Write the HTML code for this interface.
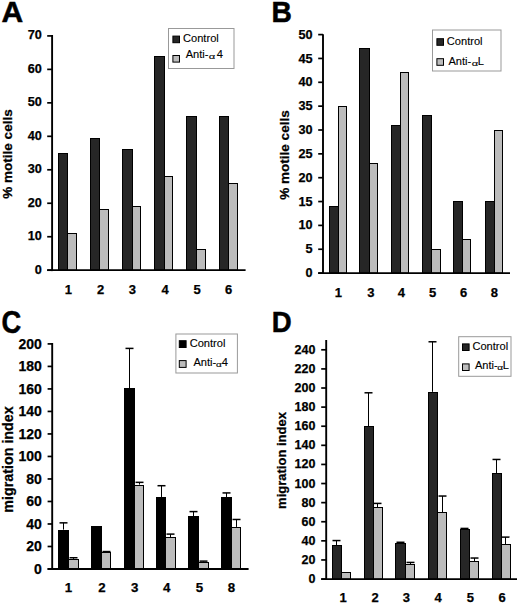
<!DOCTYPE html>
<html><head><meta charset="utf-8"><style>
html,body{margin:0;padding:0;background:#fff;}
svg{display:block;}
text{font-family:"Liberation Sans", sans-serif;fill:#000;}
</style></head><body>
<svg width="520" height="604" viewBox="0 0 520 604">
<rect width="520" height="604" fill="#fff"/>
<text x="1.6" y="22" font-size="30" font-weight="bold" text-anchor="start" stroke="#000" stroke-width="0.5">A</text>
<rect x="58.5" y="153.5" width="9" height="116.7" fill="#262626" stroke="#000" stroke-width="1"/>
<rect x="67.5" y="233.5" width="9" height="36.7" fill="#bcbcbc" stroke="#000" stroke-width="1"/>
<text x="68.47" y="293.6" font-size="13" font-weight="bold" text-anchor="middle"  stroke="#000" stroke-width="0.25">1</text>
<rect x="90.5" y="138.5" width="9" height="131.7" fill="#262626" stroke="#000" stroke-width="1"/>
<rect x="99.5" y="209.5" width="9" height="60.7" fill="#bcbcbc" stroke="#000" stroke-width="1"/>
<text x="100.73" y="293.6" font-size="13" font-weight="bold" text-anchor="middle"  stroke="#000" stroke-width="0.25">2</text>
<rect x="122.5" y="149.5" width="10" height="120.7" fill="#262626" stroke="#000" stroke-width="1"/>
<rect x="132.5" y="206.5" width="8" height="63.7" fill="#bcbcbc" stroke="#000" stroke-width="1"/>
<text x="132.49" y="293.6" font-size="13" font-weight="bold" text-anchor="middle"  stroke="#000" stroke-width="0.25">3</text>
<rect x="154.5" y="56.5" width="10" height="213.7" fill="#262626" stroke="#000" stroke-width="1"/>
<rect x="164.5" y="176.5" width="8" height="93.7" fill="#bcbcbc" stroke="#000" stroke-width="1"/>
<text x="165.24" y="293.6" font-size="13" font-weight="bold" text-anchor="middle"  stroke="#000" stroke-width="0.25">4</text>
<rect x="186.5" y="116.5" width="10" height="153.7" fill="#262626" stroke="#000" stroke-width="1"/>
<rect x="196.5" y="249.5" width="9" height="20.7" fill="#bcbcbc" stroke="#000" stroke-width="1"/>
<text x="197.18" y="293.6" font-size="13" font-weight="bold" text-anchor="middle"  stroke="#000" stroke-width="0.25">5</text>
<rect x="219.5" y="116.5" width="9" height="153.7" fill="#262626" stroke="#000" stroke-width="1"/>
<rect x="228.5" y="183.5" width="9" height="86.7" fill="#bcbcbc" stroke="#000" stroke-width="1"/>
<text x="228.7" y="293.6" font-size="13" font-weight="bold" text-anchor="middle"  stroke="#000" stroke-width="0.25">6</text>
<line x1="52.1" y1="35" x2="52.1" y2="271.1" stroke="#000" stroke-width="1.9"/>
<line x1="47.2" y1="270.2" x2="245.6" y2="270.2" stroke="#000" stroke-width="1.8"/>
<line x1="47.2" y1="270.2" x2="52.1" y2="270.2" stroke="#000" stroke-width="1.7"/>
<text x="41.8" y="273.57" font-size="12.7" font-weight="bold" text-anchor="end"  stroke="#000" stroke-width="0.25">0</text>
<line x1="47.2" y1="236.73" x2="52.1" y2="236.73" stroke="#000" stroke-width="1.7"/>
<text x="41.8" y="240.1" font-size="12.7" font-weight="bold" text-anchor="end"  stroke="#000" stroke-width="0.25">10</text>
<line x1="47.2" y1="203.26" x2="52.1" y2="203.26" stroke="#000" stroke-width="1.7"/>
<text x="41.8" y="206.63" font-size="12.7" font-weight="bold" text-anchor="end"  stroke="#000" stroke-width="0.25">20</text>
<line x1="47.2" y1="169.79" x2="52.1" y2="169.79" stroke="#000" stroke-width="1.7"/>
<text x="41.8" y="173.16" font-size="12.7" font-weight="bold" text-anchor="end"  stroke="#000" stroke-width="0.25">30</text>
<line x1="47.2" y1="136.32" x2="52.1" y2="136.32" stroke="#000" stroke-width="1.7"/>
<text x="41.8" y="139.69" font-size="12.7" font-weight="bold" text-anchor="end"  stroke="#000" stroke-width="0.25">40</text>
<line x1="47.2" y1="102.85" x2="52.1" y2="102.85" stroke="#000" stroke-width="1.7"/>
<text x="41.8" y="106.22" font-size="12.7" font-weight="bold" text-anchor="end"  stroke="#000" stroke-width="0.25">50</text>
<line x1="47.2" y1="69.38" x2="52.1" y2="69.38" stroke="#000" stroke-width="1.7"/>
<text x="41.8" y="72.75" font-size="12.7" font-weight="bold" text-anchor="end"  stroke="#000" stroke-width="0.25">60</text>
<line x1="47.2" y1="35.91" x2="52.1" y2="35.91" stroke="#000" stroke-width="1.7"/>
<text x="41.8" y="39.28" font-size="12.7" font-weight="bold" text-anchor="end"  stroke="#000" stroke-width="0.25">70</text>
<text x="0" y="0" font-size="13.5" font-weight="bold" text-anchor="middle" stroke="#000" stroke-width="0.25" transform="translate(12.4 154) rotate(-90)">% motile cells</text>
<rect x="168.5" y="28.5" width="65.5" height="40" fill="#fff" stroke="#999" stroke-width="1"/>
<rect x="172.9" y="36.1" width="6.6" height="6.6" fill="#262626" stroke="#000" stroke-width="1"/>
<rect x="172.9" y="55.5" width="6.6" height="6.6" fill="#bcbcbc" stroke="#000" stroke-width="1"/>
<text x="183" y="42.2" font-size="11.1" font-weight="normal" text-anchor="start"  stroke="#000" stroke-width="0.12">Control</text>
<text x="185.68" y="58" font-size="11.1" font-weight="normal" text-anchor="start"  stroke="#000" stroke-width="0.12">Anti-</text>
<text x="0" y="0" font-size="8.03" stroke="#000" stroke-width="0.12" transform="translate(208.68 59.45) scale(1.400 1)">&#945;</text>
<text x="216.75" y="58" font-size="11.1" font-weight="normal" text-anchor="start"  stroke="#000" stroke-width="0.12">4</text>
<text x="0" y="0" font-size="30" font-weight="bold" stroke="#000" stroke-width="0.5" transform="translate(271.41 22) scale(0.94 1)">B</text>
<rect x="329.5" y="206.5" width="9" height="66.6" fill="#262626" stroke="#000" stroke-width="1"/>
<rect x="338.5" y="106.5" width="8" height="166.6" fill="#bcbcbc" stroke="#000" stroke-width="1"/>
<text x="338.47" y="296.8" font-size="13" font-weight="bold" text-anchor="middle"  stroke="#000" stroke-width="0.25">1</text>
<rect x="359.5" y="48.5" width="10" height="224.6" fill="#262626" stroke="#000" stroke-width="1"/>
<rect x="369.5" y="163.5" width="8" height="109.6" fill="#bcbcbc" stroke="#000" stroke-width="1"/>
<text x="370.79" y="296.8" font-size="13" font-weight="bold" text-anchor="middle"  stroke="#000" stroke-width="0.25">3</text>
<rect x="391.5" y="125.5" width="9" height="147.6" fill="#262626" stroke="#000" stroke-width="1"/>
<rect x="400.5" y="72.5" width="8" height="200.6" fill="#bcbcbc" stroke="#000" stroke-width="1"/>
<text x="401.44" y="296.8" font-size="13" font-weight="bold" text-anchor="middle"  stroke="#000" stroke-width="0.25">4</text>
<rect x="422.5" y="115.5" width="9" height="157.6" fill="#262626" stroke="#000" stroke-width="1"/>
<rect x="431.5" y="249.5" width="9" height="23.6" fill="#bcbcbc" stroke="#000" stroke-width="1"/>
<text x="432.68" y="296.8" font-size="13" font-weight="bold" text-anchor="middle"  stroke="#000" stroke-width="0.25">5</text>
<rect x="453.5" y="201.5" width="9" height="71.6" fill="#262626" stroke="#000" stroke-width="1"/>
<rect x="462.5" y="239.5" width="8" height="33.6" fill="#bcbcbc" stroke="#000" stroke-width="1"/>
<text x="463.5" y="296.8" font-size="13" font-weight="bold" text-anchor="middle"  stroke="#000" stroke-width="0.25">6</text>
<rect x="485.5" y="201.5" width="9" height="71.6" fill="#262626" stroke="#000" stroke-width="1"/>
<rect x="494.5" y="130.5" width="8" height="142.6" fill="#bcbcbc" stroke="#000" stroke-width="1"/>
<text x="494.49" y="296.8" font-size="13" font-weight="bold" text-anchor="middle"  stroke="#000" stroke-width="0.25">8</text>
<line x1="323" y1="34.2" x2="323" y2="274" stroke="#000" stroke-width="1.9"/>
<line x1="318.2" y1="273.1" x2="510" y2="273.1" stroke="#000" stroke-width="1.8"/>
<line x1="318.2" y1="273.1" x2="323" y2="273.1" stroke="#000" stroke-width="1.7"/>
<text x="312.5" y="277.17" font-size="12.7" font-weight="bold" text-anchor="end"  stroke="#000" stroke-width="0.25">0</text>
<line x1="318.2" y1="249.25" x2="323" y2="249.25" stroke="#000" stroke-width="1.7"/>
<text x="312.5" y="253.32" font-size="12.7" font-weight="bold" text-anchor="end"  stroke="#000" stroke-width="0.25">5</text>
<line x1="318.2" y1="225.4" x2="323" y2="225.4" stroke="#000" stroke-width="1.7"/>
<text x="312.5" y="229.47" font-size="12.7" font-weight="bold" text-anchor="end"  stroke="#000" stroke-width="0.25">10</text>
<line x1="318.2" y1="201.55" x2="323" y2="201.55" stroke="#000" stroke-width="1.7"/>
<text x="312.5" y="205.62" font-size="12.7" font-weight="bold" text-anchor="end"  stroke="#000" stroke-width="0.25">15</text>
<line x1="318.2" y1="177.7" x2="323" y2="177.7" stroke="#000" stroke-width="1.7"/>
<text x="312.5" y="181.77" font-size="12.7" font-weight="bold" text-anchor="end"  stroke="#000" stroke-width="0.25">20</text>
<line x1="318.2" y1="153.85" x2="323" y2="153.85" stroke="#000" stroke-width="1.7"/>
<text x="312.5" y="157.92" font-size="12.7" font-weight="bold" text-anchor="end"  stroke="#000" stroke-width="0.25">25</text>
<line x1="318.2" y1="130" x2="323" y2="130" stroke="#000" stroke-width="1.7"/>
<text x="312.5" y="134.07" font-size="12.7" font-weight="bold" text-anchor="end"  stroke="#000" stroke-width="0.25">30</text>
<line x1="318.2" y1="106.15" x2="323" y2="106.15" stroke="#000" stroke-width="1.7"/>
<text x="312.5" y="110.22" font-size="12.7" font-weight="bold" text-anchor="end"  stroke="#000" stroke-width="0.25">35</text>
<line x1="318.2" y1="82.3" x2="323" y2="82.3" stroke="#000" stroke-width="1.7"/>
<text x="312.5" y="86.37" font-size="12.7" font-weight="bold" text-anchor="end"  stroke="#000" stroke-width="0.25">40</text>
<line x1="318.2" y1="58.45" x2="323" y2="58.45" stroke="#000" stroke-width="1.7"/>
<text x="312.5" y="62.52" font-size="12.7" font-weight="bold" text-anchor="end"  stroke="#000" stroke-width="0.25">45</text>
<line x1="318.2" y1="34.6" x2="323" y2="34.6" stroke="#000" stroke-width="1.7"/>
<text x="312.5" y="38.67" font-size="12.7" font-weight="bold" text-anchor="end"  stroke="#000" stroke-width="0.25">50</text>
<text x="0" y="0" font-size="13.5" font-weight="bold" text-anchor="middle" stroke="#000" stroke-width="0.25" transform="translate(289 155) rotate(-90)">% motile cells</text>
<rect x="432.5" y="30" width="68.5" height="41" fill="#fff" stroke="#999" stroke-width="1"/>
<rect x="436.9" y="38.7" width="6.6" height="6.6" fill="#262626" stroke="#000" stroke-width="1"/>
<rect x="436.9" y="58.7" width="6.6" height="6.6" fill="#bcbcbc" stroke="#000" stroke-width="1"/>
<text x="446.8" y="44.8" font-size="11.1" font-weight="normal" text-anchor="start"  stroke="#000" stroke-width="0.12">Control</text>
<text x="448.48" y="64.8" font-size="11.1" font-weight="normal" text-anchor="start"  stroke="#000" stroke-width="0.12">Anti-</text>
<text x="0" y="0" font-size="8.03" stroke="#000" stroke-width="0.12" transform="translate(471.69 65.85) scale(1.376 1)">&#945;</text>
<text x="477.69" y="64.8" font-size="11.1" font-weight="normal" text-anchor="start"  stroke="#000" stroke-width="0.12">L</text>
<text x="0" y="0" font-size="31" font-weight="bold" stroke="#000" stroke-width="0.5" transform="translate(1.56 332.5) scale(0.88 1)">C</text>
<line x1="63.5" y1="529.61" x2="63.5" y2="522.85" stroke="#000" stroke-width="1"/>
<line x1="59.5" y1="522.85" x2="67.5" y2="522.85" stroke="#000" stroke-width="1.5"/>
<line x1="73.5" y1="558.87" x2="73.5" y2="557.75" stroke="#000" stroke-width="1"/>
<line x1="69.5" y1="557.75" x2="77.5" y2="557.75" stroke="#000" stroke-width="1.5"/>
<rect x="58.5" y="530.5" width="10" height="38.5" fill="#000" stroke="#000" stroke-width="1"/>
<rect x="68.5" y="559.5" width="10" height="9.5" fill="#bcbcbc" stroke="#000" stroke-width="1"/>
<text x="68.47" y="591.8" font-size="13.3" font-weight="bold" text-anchor="middle"  stroke="#000" stroke-width="0.25">1</text>
<line x1="106.5" y1="552.12" x2="106.5" y2="551.55" stroke="#000" stroke-width="1"/>
<line x1="102.5" y1="551.55" x2="110.5" y2="551.55" stroke="#000" stroke-width="1.5"/>
<rect x="91.5" y="526.5" width="10" height="42.5" fill="#000" stroke="#000" stroke-width="1"/>
<rect x="101.5" y="552.5" width="9" height="16.5" fill="#bcbcbc" stroke="#000" stroke-width="1"/>
<text x="102.04" y="591.8" font-size="13.3" font-weight="bold" text-anchor="middle"  stroke="#000" stroke-width="0.25">2</text>
<line x1="129.5" y1="388.36" x2="129.5" y2="348.4" stroke="#000" stroke-width="1"/>
<line x1="125.5" y1="348.4" x2="133.5" y2="348.4" stroke="#000" stroke-width="1.5"/>
<line x1="139.5" y1="484.59" x2="139.5" y2="482.34" stroke="#000" stroke-width="1"/>
<line x1="135.5" y1="482.34" x2="143.5" y2="482.34" stroke="#000" stroke-width="1.5"/>
<rect x="124.5" y="388.5" width="10" height="180.5" fill="#000" stroke="#000" stroke-width="1"/>
<rect x="134.5" y="485.5" width="9" height="83.5" fill="#bcbcbc" stroke="#000" stroke-width="1"/>
<text x="134.59" y="591.8" font-size="13.3" font-weight="bold" text-anchor="middle"  stroke="#000" stroke-width="0.25">3</text>
<line x1="161.5" y1="496.97" x2="161.5" y2="485.71" stroke="#000" stroke-width="1"/>
<line x1="157.5" y1="485.71" x2="165.5" y2="485.71" stroke="#000" stroke-width="1.5"/>
<line x1="170.5" y1="537.49" x2="170.5" y2="534.11" stroke="#000" stroke-width="1"/>
<line x1="166.5" y1="534.11" x2="174.5" y2="534.11" stroke="#000" stroke-width="1.5"/>
<rect x="156.5" y="497.5" width="9" height="71.5" fill="#000" stroke="#000" stroke-width="1"/>
<rect x="165.5" y="537.5" width="10" height="31.5" fill="#bcbcbc" stroke="#000" stroke-width="1"/>
<text x="166.64" y="591.8" font-size="13.3" font-weight="bold" text-anchor="middle"  stroke="#000" stroke-width="0.25">4</text>
<line x1="193.5" y1="516.1" x2="193.5" y2="511.6" stroke="#000" stroke-width="1"/>
<line x1="189.5" y1="511.6" x2="197.5" y2="511.6" stroke="#000" stroke-width="1.5"/>
<line x1="203.5" y1="561.57" x2="203.5" y2="561.12" stroke="#000" stroke-width="1"/>
<line x1="199.5" y1="561.12" x2="207.5" y2="561.12" stroke="#000" stroke-width="1.5"/>
<rect x="188.5" y="516.5" width="10" height="52.5" fill="#000" stroke="#000" stroke-width="1"/>
<rect x="198.5" y="562.5" width="10" height="6.5" fill="#bcbcbc" stroke="#000" stroke-width="1"/>
<text x="199.48" y="591.8" font-size="13.3" font-weight="bold" text-anchor="middle"  stroke="#000" stroke-width="0.25">5</text>
<line x1="226.5" y1="496.97" x2="226.5" y2="492.92" stroke="#000" stroke-width="1"/>
<line x1="222.5" y1="492.92" x2="230.5" y2="492.92" stroke="#000" stroke-width="1.5"/>
<line x1="236.5" y1="526.91" x2="236.5" y2="519.48" stroke="#000" stroke-width="1"/>
<line x1="232.5" y1="519.48" x2="240.5" y2="519.48" stroke="#000" stroke-width="1.5"/>
<rect x="221.5" y="497.5" width="10" height="71.5" fill="#000" stroke="#000" stroke-width="1"/>
<rect x="231.5" y="527.5" width="9" height="41.5" fill="#bcbcbc" stroke="#000" stroke-width="1"/>
<text x="231.49" y="591.8" font-size="13.3" font-weight="bold" text-anchor="middle"  stroke="#000" stroke-width="0.25">8</text>
<line x1="52.2" y1="343" x2="52.2" y2="569.9" stroke="#000" stroke-width="1.9"/>
<line x1="47.6" y1="569" x2="248.6" y2="569" stroke="#000" stroke-width="1.8"/>
<line x1="47.6" y1="569" x2="52.2" y2="569" stroke="#000" stroke-width="1.7"/>
<text x="41.8" y="573.62" font-size="14" font-weight="bold" text-anchor="end"  stroke="#000" stroke-width="0.25">0</text>
<line x1="47.6" y1="546.49" x2="52.2" y2="546.49" stroke="#000" stroke-width="1.7"/>
<text x="41.8" y="551.11" font-size="14" font-weight="bold" text-anchor="end"  stroke="#000" stroke-width="0.25">20</text>
<line x1="47.6" y1="523.98" x2="52.2" y2="523.98" stroke="#000" stroke-width="1.7"/>
<text x="41.8" y="528.6" font-size="14" font-weight="bold" text-anchor="end"  stroke="#000" stroke-width="0.25">40</text>
<line x1="47.6" y1="501.47" x2="52.2" y2="501.47" stroke="#000" stroke-width="1.7"/>
<text x="41.8" y="506.09" font-size="14" font-weight="bold" text-anchor="end"  stroke="#000" stroke-width="0.25">60</text>
<line x1="47.6" y1="478.96" x2="52.2" y2="478.96" stroke="#000" stroke-width="1.7"/>
<text x="41.8" y="483.58" font-size="14" font-weight="bold" text-anchor="end"  stroke="#000" stroke-width="0.25">80</text>
<line x1="47.6" y1="456.45" x2="52.2" y2="456.45" stroke="#000" stroke-width="1.7"/>
<text x="41.8" y="461.07" font-size="14" font-weight="bold" text-anchor="end"  stroke="#000" stroke-width="0.25">100</text>
<line x1="47.6" y1="433.94" x2="52.2" y2="433.94" stroke="#000" stroke-width="1.7"/>
<text x="41.8" y="438.56" font-size="14" font-weight="bold" text-anchor="end"  stroke="#000" stroke-width="0.25">120</text>
<line x1="47.6" y1="411.43" x2="52.2" y2="411.43" stroke="#000" stroke-width="1.7"/>
<text x="41.8" y="416.05" font-size="14" font-weight="bold" text-anchor="end"  stroke="#000" stroke-width="0.25">140</text>
<line x1="47.6" y1="388.92" x2="52.2" y2="388.92" stroke="#000" stroke-width="1.7"/>
<text x="41.8" y="393.54" font-size="14" font-weight="bold" text-anchor="end"  stroke="#000" stroke-width="0.25">160</text>
<line x1="47.6" y1="366.41" x2="52.2" y2="366.41" stroke="#000" stroke-width="1.7"/>
<text x="41.8" y="371.03" font-size="14" font-weight="bold" text-anchor="end"  stroke="#000" stroke-width="0.25">180</text>
<line x1="47.6" y1="343.9" x2="52.2" y2="343.9" stroke="#000" stroke-width="1.7"/>
<text x="41.8" y="348.52" font-size="14" font-weight="bold" text-anchor="end"  stroke="#000" stroke-width="0.25">200</text>
<text x="0" y="0" font-size="14.3" font-weight="bold" text-anchor="middle" stroke="#000" stroke-width="0.25" transform="translate(13 459.5) rotate(-90)">migration index</text>
<rect x="175.9" y="334" width="61.5" height="39" fill="#fff" stroke="#999" stroke-width="1"/>
<rect x="179.3" y="340.7" width="6.8" height="6.8" fill="#000" stroke="#000" stroke-width="1"/>
<rect x="179.3" y="360.6" width="6.8" height="6.8" fill="#bcbcbc" stroke="#000" stroke-width="1"/>
<text x="189.7" y="347.4" font-size="11.1" font-weight="normal" text-anchor="start"  stroke="#000" stroke-width="0.12">Control</text>
<text x="193.48" y="366" font-size="11.1" font-weight="normal" text-anchor="start"  stroke="#000" stroke-width="0.12">Anti-</text>
<text x="0" y="0" font-size="7.12" stroke="#000" stroke-width="0.12" transform="translate(215.93 367.35) scale(1.400 1)">&#945;</text>
<text x="221.75" y="366" font-size="11.1" font-weight="normal" text-anchor="start"  stroke="#000" stroke-width="0.12">4</text>
<text x="0" y="0" font-size="30" font-weight="bold" stroke="#000" stroke-width="0.5" transform="translate(271.69 332) scale(0.92 1)">D</text>
<line x1="336.5" y1="545.04" x2="336.5" y2="540.56" stroke="#000" stroke-width="1"/>
<line x1="332.5" y1="540.56" x2="340.5" y2="540.56" stroke="#000" stroke-width="1.5"/>
<rect x="332.5" y="545.5" width="9" height="33.55" fill="#262626" stroke="#000" stroke-width="1"/>
<rect x="341.5" y="572.5" width="9" height="6.55" fill="#bcbcbc" stroke="#000" stroke-width="1"/>
<text x="343.07" y="602" font-size="13" font-weight="bold" text-anchor="middle"  stroke="#000" stroke-width="0.25">1</text>
<line x1="368.5" y1="426.22" x2="368.5" y2="392.79" stroke="#000" stroke-width="1"/>
<line x1="364.5" y1="392.79" x2="372.5" y2="392.79" stroke="#000" stroke-width="1.5"/>
<line x1="377.5" y1="507.41" x2="377.5" y2="503.4" stroke="#000" stroke-width="1"/>
<line x1="373.5" y1="503.4" x2="381.5" y2="503.4" stroke="#000" stroke-width="1.5"/>
<rect x="364.5" y="426.5" width="9" height="152.55" fill="#262626" stroke="#000" stroke-width="1"/>
<rect x="373.5" y="507.5" width="9" height="71.55" fill="#bcbcbc" stroke="#000" stroke-width="1"/>
<text x="375.03" y="602" font-size="13" font-weight="bold" text-anchor="middle"  stroke="#000" stroke-width="0.25">2</text>
<line x1="400.5" y1="543.04" x2="400.5" y2="542.27" stroke="#000" stroke-width="1"/>
<line x1="396.5" y1="542.27" x2="404.5" y2="542.27" stroke="#000" stroke-width="1.5"/>
<line x1="410.5" y1="564.44" x2="410.5" y2="562.43" stroke="#000" stroke-width="1"/>
<line x1="406.5" y1="562.43" x2="414.5" y2="562.43" stroke="#000" stroke-width="1.5"/>
<rect x="395.5" y="543.5" width="10" height="35.55" fill="#262626" stroke="#000" stroke-width="1"/>
<rect x="405.5" y="564.5" width="9" height="14.55" fill="#bcbcbc" stroke="#000" stroke-width="1"/>
<text x="406.39" y="602" font-size="13" font-weight="bold" text-anchor="middle"  stroke="#000" stroke-width="0.25">3</text>
<line x1="432.5" y1="391.83" x2="432.5" y2="341.78" stroke="#000" stroke-width="1"/>
<line x1="428.5" y1="341.78" x2="436.5" y2="341.78" stroke="#000" stroke-width="1.5"/>
<line x1="442.5" y1="512.38" x2="442.5" y2="496.04" stroke="#000" stroke-width="1"/>
<line x1="438.5" y1="496.04" x2="446.5" y2="496.04" stroke="#000" stroke-width="1.5"/>
<rect x="428.5" y="392.5" width="9" height="186.55" fill="#262626" stroke="#000" stroke-width="1"/>
<rect x="437.5" y="512.5" width="9" height="66.55" fill="#bcbcbc" stroke="#000" stroke-width="1"/>
<text x="438.24" y="602" font-size="13" font-weight="bold" text-anchor="middle"  stroke="#000" stroke-width="0.25">4</text>
<line x1="464.5" y1="529.19" x2="464.5" y2="528.42" stroke="#000" stroke-width="1"/>
<line x1="460.5" y1="528.42" x2="468.5" y2="528.42" stroke="#000" stroke-width="1.5"/>
<line x1="474.5" y1="561.47" x2="474.5" y2="558.04" stroke="#000" stroke-width="1"/>
<line x1="470.5" y1="558.04" x2="478.5" y2="558.04" stroke="#000" stroke-width="1.5"/>
<rect x="460.5" y="529.5" width="9" height="49.55" fill="#262626" stroke="#000" stroke-width="1"/>
<rect x="469.5" y="561.5" width="9" height="17.55" fill="#bcbcbc" stroke="#000" stroke-width="1"/>
<text x="470.28" y="602" font-size="13" font-weight="bold" text-anchor="middle"  stroke="#000" stroke-width="0.25">5</text>
<line x1="496.5" y1="473.02" x2="496.5" y2="459.46" stroke="#000" stroke-width="1"/>
<line x1="492.5" y1="459.46" x2="500.5" y2="459.46" stroke="#000" stroke-width="1.5"/>
<line x1="505.5" y1="544.38" x2="505.5" y2="537.12" stroke="#000" stroke-width="1"/>
<line x1="501.5" y1="537.12" x2="509.5" y2="537.12" stroke="#000" stroke-width="1.5"/>
<rect x="492.5" y="473.5" width="9" height="105.55" fill="#262626" stroke="#000" stroke-width="1"/>
<rect x="501.5" y="544.5" width="9" height="34.55" fill="#bcbcbc" stroke="#000" stroke-width="1"/>
<text x="502" y="602" font-size="13" font-weight="bold" text-anchor="middle"  stroke="#000" stroke-width="0.25">6</text>
<line x1="326.2" y1="340" x2="326.2" y2="579.95" stroke="#000" stroke-width="1.9"/>
<line x1="321.2" y1="579.05" x2="517" y2="579.05" stroke="#000" stroke-width="1.8"/>
<line x1="321.2" y1="579.05" x2="326.2" y2="579.05" stroke="#000" stroke-width="1.7"/>
<text x="315.4" y="583.05" font-size="12.5" font-weight="bold" text-anchor="end"  stroke="#000" stroke-width="0.25">0</text>
<line x1="321.2" y1="559.95" x2="326.2" y2="559.95" stroke="#000" stroke-width="1.7"/>
<text x="315.4" y="563.95" font-size="12.5" font-weight="bold" text-anchor="end"  stroke="#000" stroke-width="0.25">20</text>
<line x1="321.2" y1="540.84" x2="326.2" y2="540.84" stroke="#000" stroke-width="1.7"/>
<text x="315.4" y="544.84" font-size="12.5" font-weight="bold" text-anchor="end"  stroke="#000" stroke-width="0.25">40</text>
<line x1="321.2" y1="521.74" x2="326.2" y2="521.74" stroke="#000" stroke-width="1.7"/>
<text x="315.4" y="525.74" font-size="12.5" font-weight="bold" text-anchor="end"  stroke="#000" stroke-width="0.25">60</text>
<line x1="321.2" y1="502.63" x2="326.2" y2="502.63" stroke="#000" stroke-width="1.7"/>
<text x="315.4" y="506.63" font-size="12.5" font-weight="bold" text-anchor="end"  stroke="#000" stroke-width="0.25">80</text>
<line x1="321.2" y1="483.53" x2="326.2" y2="483.53" stroke="#000" stroke-width="1.7"/>
<text x="315.4" y="487.53" font-size="12.5" font-weight="bold" text-anchor="end"  stroke="#000" stroke-width="0.25">100</text>
<line x1="321.2" y1="464.43" x2="326.2" y2="464.43" stroke="#000" stroke-width="1.7"/>
<text x="315.4" y="468.43" font-size="12.5" font-weight="bold" text-anchor="end"  stroke="#000" stroke-width="0.25">120</text>
<line x1="321.2" y1="445.32" x2="326.2" y2="445.32" stroke="#000" stroke-width="1.7"/>
<text x="315.4" y="449.32" font-size="12.5" font-weight="bold" text-anchor="end"  stroke="#000" stroke-width="0.25">140</text>
<line x1="321.2" y1="426.22" x2="326.2" y2="426.22" stroke="#000" stroke-width="1.7"/>
<text x="315.4" y="430.22" font-size="12.5" font-weight="bold" text-anchor="end"  stroke="#000" stroke-width="0.25">160</text>
<line x1="321.2" y1="407.11" x2="326.2" y2="407.11" stroke="#000" stroke-width="1.7"/>
<text x="315.4" y="411.11" font-size="12.5" font-weight="bold" text-anchor="end"  stroke="#000" stroke-width="0.25">180</text>
<line x1="321.2" y1="388.01" x2="326.2" y2="388.01" stroke="#000" stroke-width="1.7"/>
<text x="315.4" y="392.01" font-size="12.5" font-weight="bold" text-anchor="end"  stroke="#000" stroke-width="0.25">200</text>
<line x1="321.2" y1="368.91" x2="326.2" y2="368.91" stroke="#000" stroke-width="1.7"/>
<text x="315.4" y="372.91" font-size="12.5" font-weight="bold" text-anchor="end"  stroke="#000" stroke-width="0.25">220</text>
<line x1="321.2" y1="349.8" x2="326.2" y2="349.8" stroke="#000" stroke-width="1.7"/>
<text x="315.4" y="353.8" font-size="12.5" font-weight="bold" text-anchor="end"  stroke="#000" stroke-width="0.25">240</text>
<text x="0" y="0" font-size="13" font-weight="bold" text-anchor="middle" stroke="#000" stroke-width="0.25" transform="translate(285.5 460.5) rotate(-90)">migration index</text>
<rect x="458.7" y="336.7" width="52.3" height="39.6" fill="#fff" stroke="#999" stroke-width="1"/>
<rect x="462.5" y="343.9" width="6.6" height="6.6" fill="#262626" stroke="#000" stroke-width="1"/>
<rect x="462.5" y="363.9" width="6.6" height="6.6" fill="#bcbcbc" stroke="#000" stroke-width="1"/>
<text x="472.4" y="349.8" font-size="11.1" font-weight="normal" text-anchor="start"  stroke="#000" stroke-width="0.12">Control</text>
<text x="474.98" y="369.2" font-size="11.1" font-weight="normal" text-anchor="start"  stroke="#000" stroke-width="0.12">Anti-</text>
<text x="0" y="0" font-size="7.48" stroke="#000" stroke-width="0.12" transform="translate(497.33 370.05) scale(1.344 1)">&#945;</text>
<text x="502.79" y="369.2" font-size="11.1" font-weight="normal" text-anchor="start"  stroke="#000" stroke-width="0.12">L</text>
</svg></body></html>
